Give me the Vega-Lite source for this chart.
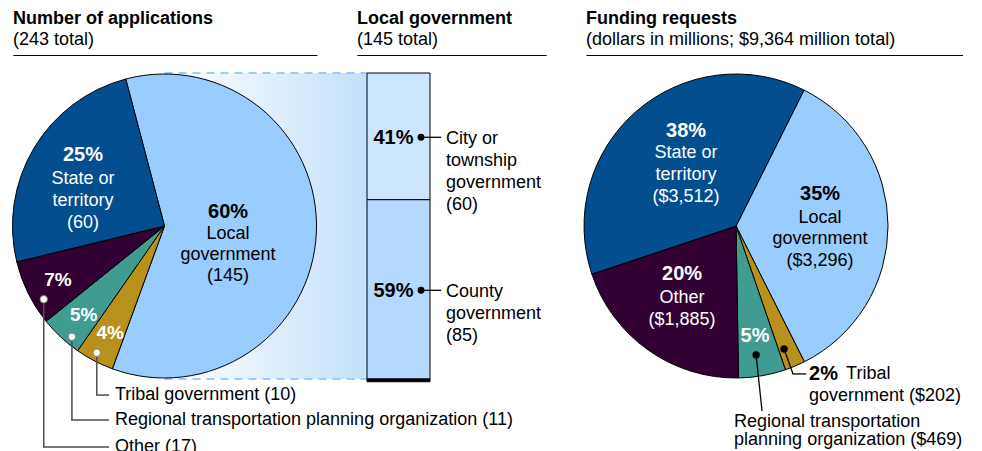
{
  "$schema": "https://vega.github.io/schema/vega-lite/v6.json",
  "padding": {"left": 10, "top": 10, "right": 0, "bottom": 0},
  "bounds": "flush",
  "spacing": 40,
  "resolve": {"scale": {"theta": "independent", "color": "independent", "x": "independent", "y": "independent"}},
  "config": {
    "font": "Liberation Sans",
    "view": {"stroke": null},
    "axis": {"labels": false, "ticks": false, "grid": false, "domain": true, "domainColor": "black", "domainWidth": 1.2, "offset": 18},
    "text": {"font": "Liberation Sans", "fontSize": 18, "color": "black"},
    "title": {"anchor": "start", "frame": "group", "font": "Liberation Sans", "fontSize": 18, "fontWeight": "bold", "color": "black", "subtitleFont": "Liberation Sans", "subtitleFontSize": 18, "subtitleColor": "black", "subtitlePadding": 3, "offset": 6}
  },
  "datasets": {
    "applications": [
      {"cat": "Local government", "n": 145, "order": 1, "pct": "60%", "lines": ["Local", "government", "(145)"], "legend": ""},
      {"cat": "Tribal government", "n": 10, "order": 2, "pct": "4%", "lines": [], "legend": "Tribal government (10)"},
      {"cat": "Regional transportation planning organization", "n": 11, "order": 3, "pct": "5%", "lines": [], "legend": "Regional transportation planning organization (11)"},
      {"cat": "Other", "n": 17, "order": 4, "pct": "7%", "lines": [], "legend": "Other (17)"},
      {"cat": "State or territory", "n": 60, "order": 5, "pct": "25%", "lines": ["State or", "territory", "(60)"], "legend": ""}
    ],
    "local": [
      {"group": "Local government", "sub": "County government", "n": 85, "order": 1, "pct": "59%", "lines": ["County", "government", "(85)"]},
      {"group": "Local government", "sub": "City or township government", "n": 60, "order": 2, "pct": "41%", "lines": ["City or", "township", "government", "(60)"]}
    ],
    "funding": [
      {"cat": "Local government", "usd": 3296, "order": 1, "pct": "35%", "lines": ["Local", "government", "($3,296)"], "first": "", "second": ""},
      {"cat": "Tribal government", "usd": 202, "order": 2, "pct": "2%", "lines": [], "first": "Tribal", "second": "government ($202)"},
      {"cat": "Regional transportation planning organization", "usd": 469, "order": 3, "pct": "5%", "lines": ["Regional transportation", "planning organization ($469)"], "first": "", "second": ""},
      {"cat": "Other", "usd": 1885, "order": 4, "pct": "20%", "lines": ["Other", "($1,885)"], "first": "", "second": ""},
      {"cat": "State or territory", "usd": 3512, "order": 5, "pct": "38%", "lines": ["State or", "territory", "($3,512)"], "first": "", "second": ""}
    ]
  },
  "hconcat": [
    {
      "width": 304,
      "height": 306,
      "title": {"text": "Number of applications", "subtitle": "(243 total)"},
      "data": {"name": "applications"},
      "layer": [
        {
          "transform": [{"filter": "datum.cat === 'Local government'"}],
          "mark": {"type": "rect", "fill": {"gradient": "linear", "x1": 0, "y1": 0, "x2": 1, "y2": 0, "stops": [{"offset": 0, "color": "#ffffff"}, {"offset": 1, "color": "#c4e0fa"}]}},
          "encoding": {
            "x": {"datum": 0, "type": "quantitative", "scale": {"domain": [-1, 1.0066], "nice": false, "zero": false}, "axis": {"orient": "top", "title": null}},
            "x2": {"datum": 1.337},
            "y": {"datum": -1, "type": "quantitative", "scale": {"domain": [-1, 1], "nice": false, "zero": false}, "axis": null},
            "y2": {"datum": 1}
          }
        },
        {
          "transform": [{"filter": "datum.cat === 'Local government'"}],
          "mark": {"type": "rule", "stroke": "#99ccff", "strokeWidth": 2, "strokeDash": [8, 6]},
          "encoding": {
            "x": {"datum": 0, "type": "quantitative", "scale": {"domain": [-1, 1.0066], "nice": false, "zero": false}, "axis": {"orient": "top", "title": null}},
            "x2": {"datum": 1.337},
            "y": {"datum": 1, "type": "quantitative", "scale": {"domain": [-1, 1], "nice": false, "zero": false}, "axis": null}
          }
        },
        {
          "transform": [{"filter": "datum.cat === 'Local government'"}],
          "mark": {"type": "rule", "stroke": "#99ccff", "strokeWidth": 2, "strokeDash": [8, 6]},
          "encoding": {
            "x": {"datum": 0, "type": "quantitative", "scale": {"domain": [-1, 1.0066], "nice": false, "zero": false}, "axis": {"orient": "top", "title": null}},
            "x2": {"datum": 1.337},
            "y": {"datum": -1, "type": "quantitative", "scale": {"domain": [-1, 1], "nice": false, "zero": false}, "axis": null}
          }
        },
        {
          "mark": {"type": "arc", "outerRadius": 152, "stroke": "black", "strokeWidth": 1},
          "encoding": {
            "x": {"datum": 0, "type": "quantitative", "scale": {"domain": [-1, 1.0066], "nice": false, "zero": false}, "axis": {"orient": "top", "title": null}},
            "theta": {"field": "n", "type": "quantitative", "stack": true, "scale": {"range": [-0.2578, 6.0254]}},
            "color": {"field": "cat", "type": "nominal", "legend": null, "scale": {"domain": ["Local government", "Tribal government", "Regional transportation planning organization", "Other", "State or territory"], "range": ["#99ccff", "#b8901c", "#409c91", "#330033", "#024e8f"]}},
            "order": {"field": "order"}
          }
        },
        {
          "mark": {"type": "text", "radius": 63.6, "dy": -17, "fontSize": 20, "fontWeight": "bold", "fill": "black", "baseline": "middle"},
          "encoding": {
            "x": {"datum": 0, "type": "quantitative", "scale": {"domain": [-1, 1.0066], "nice": false, "zero": false}, "axis": {"orient": "top", "title": null}},
            "theta": {"field": "n", "type": "quantitative", "stack": true},
            "detail": {"field": "cat"},
            "order": {"field": "order"},
            "text": {"field": "pct"},
            "opacity": {"condition": {"test": "datum.cat === 'Local government'", "value": 1}, "value": 0}
          }
        },
        {
          "mark": {"type": "text", "radius": 63.6, "dy": 5, "fontSize": 18, "lineHeight": 21, "fill": "black", "baseline": "middle"},
          "encoding": {
            "x": {"datum": 0, "type": "quantitative", "scale": {"domain": [-1, 1.0066], "nice": false, "zero": false}, "axis": {"orient": "top", "title": null}},
            "theta": {"field": "n", "type": "quantitative", "stack": true},
            "detail": {"field": "cat"},
            "order": {"field": "order"},
            "text": {"field": "lines"},
            "opacity": {"condition": {"test": "datum.cat === 'Local government'", "value": 1}, "value": 0}
          }
        },
        {
          "mark": {"type": "text", "radius": 94.9, "dy": -22, "fontSize": 20, "fontWeight": "bold", "fill": "white", "baseline": "middle"},
          "encoding": {
            "x": {"datum": 0, "type": "quantitative", "scale": {"domain": [-1, 1.0066], "nice": false, "zero": false}, "axis": {"orient": "top", "title": null}},
            "theta": {"field": "n", "type": "quantitative", "stack": true},
            "detail": {"field": "cat"},
            "order": {"field": "order"},
            "text": {"field": "pct"},
            "opacity": {"condition": {"test": "datum.cat === 'State or territory'", "value": 1}, "value": 0}
          }
        },
        {
          "mark": {"type": "text", "radius": 94.9, "dy": 1.2, "fontSize": 18, "lineHeight": 22.4, "fill": "white", "baseline": "middle"},
          "encoding": {
            "x": {"datum": 0, "type": "quantitative", "scale": {"domain": [-1, 1.0066], "nice": false, "zero": false}, "axis": {"orient": "top", "title": null}},
            "theta": {"field": "n", "type": "quantitative", "stack": true},
            "detail": {"field": "cat"},
            "order": {"field": "order"},
            "text": {"field": "lines"},
            "opacity": {"condition": {"test": "datum.cat === 'State or territory'", "value": 1}, "value": 0}
          }
        },
        {
          "mark": {"type": "text", "radius": 120, "dx": 1, "dy": 1, "fontSize": 19, "fontWeight": "bold", "fill": "white", "baseline": "middle"},
          "encoding": {
            "x": {"datum": 0, "type": "quantitative", "scale": {"domain": [-1, 1.0066], "nice": false, "zero": false}, "axis": {"orient": "top", "title": null}},
            "theta": {"field": "n", "type": "quantitative", "stack": true},
            "detail": {"field": "cat"},
            "order": {"field": "order"},
            "text": {"field": "pct"},
            "opacity": {"condition": {"test": "datum.n < 20", "value": 1}, "value": 0}
          }
        },
        {
          "transform": [{"filter": "datum.cat === 'Other'"}],
          "mark": {"type": "rule", "stroke": "#4d4d4d", "strokeWidth": 1.5},
          "encoding": {
            "x": {"datum": -0.797, "type": "quantitative", "scale": {"domain": [-1, 1.0066], "nice": false, "zero": false}, "axis": {"orient": "top", "title": null}},
            "y": {"datum": -0.479, "type": "quantitative", "scale": {"domain": [-1, 1], "nice": false, "zero": false}, "axis": null},
            "y2": {"datum": -1.444}
          }
        },
        {
          "transform": [{"filter": "datum.cat === 'Other'"}],
          "mark": {"type": "rule", "stroke": "#4d4d4d", "strokeWidth": 1.5},
          "encoding": {
            "x": {"datum": -0.802, "type": "quantitative", "scale": {"domain": [-1, 1.0066], "nice": false, "zero": false}, "axis": {"orient": "top", "title": null}},
            "x2": {"datum": -0.366},
            "y": {"datum": -1.444, "type": "quantitative", "scale": {"domain": [-1, 1], "nice": false, "zero": false}, "axis": null}
          }
        },
        {
          "transform": [{"filter": "datum.cat === 'Regional transportation planning organization'"}],
          "mark": {"type": "rule", "stroke": "#4d4d4d", "strokeWidth": 1.5},
          "encoding": {
            "x": {"datum": -0.611, "type": "quantitative", "scale": {"domain": [-1, 1.0066], "nice": false, "zero": false}, "axis": {"orient": "top", "title": null}},
            "y": {"datum": -0.724, "type": "quantitative", "scale": {"domain": [-1, 1], "nice": false, "zero": false}, "axis": null},
            "y2": {"datum": -1.268}
          }
        },
        {
          "transform": [{"filter": "datum.cat === 'Regional transportation planning organization'"}],
          "mark": {"type": "rule", "stroke": "#4d4d4d", "strokeWidth": 1.5},
          "encoding": {
            "x": {"datum": -0.616, "type": "quantitative", "scale": {"domain": [-1, 1.0066], "nice": false, "zero": false}, "axis": {"orient": "top", "title": null}},
            "x2": {"datum": -0.366},
            "y": {"datum": -1.268, "type": "quantitative", "scale": {"domain": [-1, 1], "nice": false, "zero": false}, "axis": null}
          }
        },
        {
          "transform": [{"filter": "datum.cat === 'Tribal government'"}],
          "mark": {"type": "rule", "stroke": "#4d4d4d", "strokeWidth": 1.5},
          "encoding": {
            "x": {"datum": -0.447, "type": "quantitative", "scale": {"domain": [-1, 1.0066], "nice": false, "zero": false}, "axis": {"orient": "top", "title": null}},
            "y": {"datum": -0.828, "type": "quantitative", "scale": {"domain": [-1, 1], "nice": false, "zero": false}, "axis": null},
            "y2": {"datum": -1.105}
          }
        },
        {
          "transform": [{"filter": "datum.cat === 'Tribal government'"}],
          "mark": {"type": "rule", "stroke": "#4d4d4d", "strokeWidth": 1.5},
          "encoding": {
            "x": {"datum": -0.452, "type": "quantitative", "scale": {"domain": [-1, 1.0066], "nice": false, "zero": false}, "axis": {"orient": "top", "title": null}},
            "x2": {"datum": -0.366},
            "y": {"datum": -1.105, "type": "quantitative", "scale": {"domain": [-1, 1], "nice": false, "zero": false}, "axis": null}
          }
        },
        {
          "transform": [{"filter": "datum.cat === 'Other'"}],
          "mark": {"type": "point", "filled": true, "fill": "white", "stroke": "#707070", "strokeWidth": 0.8, "size": 55, "opacity": 1},
          "encoding": {
            "x": {"datum": -0.797, "type": "quantitative", "scale": {"domain": [-1, 1.0066], "nice": false, "zero": false}, "axis": {"orient": "top", "title": null}},
            "y": {"datum": -0.479, "type": "quantitative", "scale": {"domain": [-1, 1], "nice": false, "zero": false}, "axis": null}
          }
        },
        {
          "transform": [{"filter": "datum.cat === 'Regional transportation planning organization'"}],
          "mark": {"type": "point", "filled": true, "fill": "white", "stroke": "#707070", "strokeWidth": 0.8, "size": 55, "opacity": 1},
          "encoding": {
            "x": {"datum": -0.611, "type": "quantitative", "scale": {"domain": [-1, 1.0066], "nice": false, "zero": false}, "axis": {"orient": "top", "title": null}},
            "y": {"datum": -0.724, "type": "quantitative", "scale": {"domain": [-1, 1], "nice": false, "zero": false}, "axis": null}
          }
        },
        {
          "transform": [{"filter": "datum.cat === 'Tribal government'"}],
          "mark": {"type": "point", "filled": true, "fill": "white", "stroke": "#707070", "strokeWidth": 0.8, "size": 55, "opacity": 1},
          "encoding": {
            "x": {"datum": -0.447, "type": "quantitative", "scale": {"domain": [-1, 1.0066], "nice": false, "zero": false}, "axis": {"orient": "top", "title": null}},
            "y": {"datum": -0.828, "type": "quantitative", "scale": {"domain": [-1, 1], "nice": false, "zero": false}, "axis": null}
          }
        },
        {
          "transform": [{"filter": "datum.cat === 'Tribal government'"}],
          "mark": {"type": "text", "align": "left", "baseline": "middle", "fontSize": 18, "fill": "black"},
          "encoding": {
            "x": {"datum": -0.327, "type": "quantitative", "scale": {"domain": [-1, 1.0066], "nice": false, "zero": false}, "axis": {"orient": "top", "title": null}},
            "y": {"datum": -1.105, "type": "quantitative", "scale": {"domain": [-1, 1], "nice": false, "zero": false}, "axis": null},
            "text": {"field": "legend"}
          }
        },
        {
          "transform": [{"filter": "datum.cat === 'Regional transportation planning organization'"}],
          "mark": {"type": "text", "align": "left", "baseline": "middle", "fontSize": 18, "fill": "black"},
          "encoding": {
            "x": {"datum": -0.327, "type": "quantitative", "scale": {"domain": [-1, 1.0066], "nice": false, "zero": false}, "axis": {"orient": "top", "title": null}},
            "y": {"datum": -1.268, "type": "quantitative", "scale": {"domain": [-1, 1], "nice": false, "zero": false}, "axis": null},
            "text": {"field": "legend"}
          }
        },
        {
          "transform": [{"filter": "datum.cat === 'Other'"}],
          "mark": {"type": "text", "align": "left", "baseline": "middle", "fontSize": 18, "fill": "black"},
          "encoding": {
            "x": {"datum": -0.327, "type": "quantitative", "scale": {"domain": [-1, 1.0066], "nice": false, "zero": false}, "axis": {"orient": "top", "title": null}},
            "y": {"datum": -1.444, "type": "quantitative", "scale": {"domain": [-1, 1], "nice": false, "zero": false}, "axis": null},
            "text": {"field": "legend"}
          }
        }
      ]
    },
    {
      "width": 189,
      "height": 306,
      "title": {"text": "Local government", "subtitle": "(145 total)"},
      "data": {"name": "local"},
      "encoding": {
        "x": {"field": "group", "type": "nominal", "scale": {"paddingInner": 0, "paddingOuter": 1, "align": 0.0794}, "axis": {"orient": "top", "title": null}}
      },
      "layer": [
        {
          "mark": {"type": "bar", "stroke": "black", "strokeWidth": 1},
          "encoding": {
            "y": {"field": "n", "type": "quantitative", "stack": true, "scale": {"domain": [0, 145], "nice": false}, "axis": null},
            "color": {"field": "sub", "type": "nominal", "legend": null, "scale": {"domain": ["County government", "City or township government"], "range": ["#b3d9ff", "#cce6ff"]}},
            "order": {"field": "order"}
          }
        },
        {
          "transform": [{"filter": "datum.order === 1"}],
          "mark": {"type": "bar", "fill": "black", "stroke": "black", "strokeWidth": 1},
          "encoding": {
            "y": {"datum": 0, "type": "quantitative", "scale": {"domain": [0, 145], "nice": false}, "axis": null},
            "y2": {"datum": -1.3}
          }
        },
        {
          "mark": {"type": "text", "fontSize": 20, "fontWeight": "bold", "fill": "black", "baseline": "middle", "dx": -5, "dy": 2},
          "encoding": {
            "y": {"field": "n", "type": "quantitative", "stack": true, "bandPosition": 0.5, "axis": null},
            "detail": {"field": "sub"},
            "order": {"field": "order"},
            "text": {"field": "pct"}
          }
        },
        {
          "mark": {"type": "point", "filled": true, "fill": "black", "size": 48, "opacity": 1, "xOffset": 22.5, "yOffset": 1},
          "encoding": {
            "y": {"field": "n", "type": "quantitative", "stack": true, "bandPosition": 0.5, "axis": null},
            "detail": {"field": "sub"},
            "order": {"field": "order"}
          }
        },
        {
          "mark": {"type": "tick", "orient": "horizontal", "color": "black", "size": 17, "thickness": 1.3, "opacity": 1, "xOffset": 34.2, "yOffset": 1},
          "encoding": {
            "y": {"field": "n", "type": "quantitative", "stack": true, "bandPosition": 0.5, "axis": null},
            "detail": {"field": "sub"},
            "order": {"field": "order"}
          }
        },
        {
          "mark": {"type": "text", "align": "left", "baseline": "alphabetic", "fontSize": 18, "lineHeight": 21.8, "fill": "black", "dx": 47.5, "dy": 8},
          "encoding": {
            "y": {"field": "n", "type": "quantitative", "stack": true, "bandPosition": 0.5, "axis": null},
            "detail": {"field": "sub"},
            "order": {"field": "order"},
            "text": {"field": "lines"}
          }
        }
      ]
    },
    {
      "width": 377,
      "height": 306,
      "title": {"text": "Funding requests", "subtitle": "(dollars in millions; $9,364 million total)"},
      "data": {"name": "funding"},
      "layer": [
        {
          "mark": {"type": "arc", "outerRadius": 152, "stroke": "black", "strokeWidth": 1},
          "encoding": {
            "x": {"datum": 0, "type": "quantitative", "scale": {"domain": [-0.987, 1.493], "nice": false, "zero": false}, "axis": {"orient": "top", "title": null}},
            "theta": {"field": "usd", "type": "quantitative", "stack": true, "scale": {"range": [0.4637, 6.7469]}},
            "color": {"field": "cat", "type": "nominal", "legend": null, "scale": {"domain": ["Local government", "Tribal government", "Regional transportation planning organization", "Other", "State or territory"], "range": ["#99ccff", "#b8901c", "#409c91", "#330033", "#024e8f"]}},
            "order": {"field": "order"}
          }
        },
        {
          "mark": {"type": "text", "radius": 76.3, "dy": -37, "fontSize": 20, "fontWeight": "bold", "fill": "white", "baseline": "middle"},
          "encoding": {
            "x": {"datum": 0, "type": "quantitative", "scale": {"domain": [-0.987, 1.493], "nice": false, "zero": false}, "axis": {"orient": "top", "title": null}},
            "theta": {"field": "usd", "type": "quantitative", "stack": true},
            "detail": {"field": "cat"},
            "order": {"field": "order"},
            "text": {"field": "pct"},
            "opacity": {"condition": {"test": "datum.cat === 'State or territory'", "value": 1}, "value": 0}
          }
        },
        {
          "mark": {"type": "text", "radius": 76.3, "dy": -15.5, "fontSize": 18, "lineHeight": 22, "fill": "white", "baseline": "middle"},
          "encoding": {
            "x": {"datum": 0, "type": "quantitative", "scale": {"domain": [-0.987, 1.493], "nice": false, "zero": false}, "axis": {"orient": "top", "title": null}},
            "theta": {"field": "usd", "type": "quantitative", "stack": true},
            "detail": {"field": "cat"},
            "order": {"field": "order"},
            "text": {"field": "lines"},
            "opacity": {"condition": {"test": "datum.cat === 'State or territory'", "value": 1}, "value": 0}
          }
        },
        {
          "mark": {"type": "text", "radius": 84, "dy": -32, "fontSize": 20, "fontWeight": "bold", "fill": "black", "baseline": "middle"},
          "encoding": {
            "x": {"datum": 0, "type": "quantitative", "scale": {"domain": [-0.987, 1.493], "nice": false, "zero": false}, "axis": {"orient": "top", "title": null}},
            "theta": {"field": "usd", "type": "quantitative", "stack": true},
            "detail": {"field": "cat"},
            "order": {"field": "order"},
            "text": {"field": "pct"},
            "opacity": {"condition": {"test": "datum.cat === 'Local government'", "value": 1}, "value": 0}
          }
        },
        {
          "mark": {"type": "text", "radius": 84, "dy": -8, "fontSize": 18, "lineHeight": 21.5, "fill": "black", "baseline": "middle"},
          "encoding": {
            "x": {"datum": 0, "type": "quantitative", "scale": {"domain": [-0.987, 1.493], "nice": false, "zero": false}, "axis": {"orient": "top", "title": null}},
            "theta": {"field": "usd", "type": "quantitative", "stack": true},
            "detail": {"field": "cat"},
            "order": {"field": "order"},
            "text": {"field": "lines"},
            "opacity": {"condition": {"test": "datum.cat === 'Local government'", "value": 1}, "value": 0}
          }
        },
        {
          "mark": {"type": "text", "radius": 93.4, "dy": -28, "fontSize": 20, "fontWeight": "bold", "fill": "white", "baseline": "middle"},
          "encoding": {
            "x": {"datum": 0, "type": "quantitative", "scale": {"domain": [-0.987, 1.493], "nice": false, "zero": false}, "axis": {"orient": "top", "title": null}},
            "theta": {"field": "usd", "type": "quantitative", "stack": true},
            "detail": {"field": "cat"},
            "order": {"field": "order"},
            "text": {"field": "pct"},
            "opacity": {"condition": {"test": "datum.cat === 'Other'", "value": 1}, "value": 0}
          }
        },
        {
          "mark": {"type": "text", "radius": 93.4, "dy": -4, "fontSize": 18, "lineHeight": 21.5, "fill": "white", "baseline": "middle"},
          "encoding": {
            "x": {"datum": 0, "type": "quantitative", "scale": {"domain": [-0.987, 1.493], "nice": false, "zero": false}, "axis": {"orient": "top", "title": null}},
            "theta": {"field": "usd", "type": "quantitative", "stack": true},
            "detail": {"field": "cat"},
            "order": {"field": "order"},
            "text": {"field": "lines"},
            "opacity": {"condition": {"test": "datum.cat === 'Other'", "value": 1}, "value": 0}
          }
        },
        {
          "mark": {"type": "text", "radius": 110, "dy": 2, "fontSize": 20, "fontWeight": "bold", "fill": "white", "baseline": "middle"},
          "encoding": {
            "x": {"datum": 0, "type": "quantitative", "scale": {"domain": [-0.987, 1.493], "nice": false, "zero": false}, "axis": {"orient": "top", "title": null}},
            "theta": {"field": "usd", "type": "quantitative", "stack": true},
            "detail": {"field": "cat"},
            "order": {"field": "order"},
            "text": {"field": "pct"},
            "opacity": {"condition": {"test": "datum.cat === 'Regional transportation planning organization'", "value": 1}, "value": 0}
          }
        },
        {
          "transform": [{"filter": "datum.cat === 'Regional transportation planning organization'"}],
          "mark": {"type": "rule", "stroke": "black", "strokeWidth": 1.3},
          "encoding": {
            "x": {"datum": 0.132, "type": "quantitative", "scale": {"domain": [-0.987, 1.493], "nice": false, "zero": false}, "axis": {"orient": "top", "title": null}},
            "y": {"datum": -0.843, "type": "quantitative", "scale": {"domain": [-1, 1], "nice": false, "zero": false}, "axis": null},
            "x2": {"datum": 0.171},
            "y2": {"datum": -1.209}
          }
        },
        {
          "transform": [{"filter": "datum.cat === 'Tribal government'"}],
          "mark": {"type": "rule", "stroke": "black", "strokeWidth": 1.3},
          "encoding": {
            "x": {"datum": 0.316, "type": "quantitative", "scale": {"domain": [-0.987, 1.493], "nice": false, "zero": false}, "axis": {"orient": "top", "title": null}},
            "y": {"datum": -0.804, "type": "quantitative", "scale": {"domain": [-1, 1], "nice": false, "zero": false}, "axis": null},
            "x2": {"datum": 0.375},
            "y2": {"datum": -0.967}
          }
        },
        {
          "transform": [{"filter": "datum.cat === 'Tribal government'"}],
          "mark": {"type": "rule", "stroke": "black", "strokeWidth": 1.3},
          "encoding": {
            "x": {"datum": 0.371, "type": "quantitative", "scale": {"domain": [-0.987, 1.493], "nice": false, "zero": false}, "axis": {"orient": "top", "title": null}},
            "y": {"datum": -0.967, "type": "quantitative", "scale": {"domain": [-1, 1], "nice": false, "zero": false}, "axis": null},
            "x2": {"datum": 0.461}
          }
        },
        {
          "transform": [{"filter": "datum.cat === 'Regional transportation planning organization'"}],
          "mark": {"type": "point", "filled": true, "fill": "black", "size": 55, "opacity": 1},
          "encoding": {
            "x": {"datum": 0.132, "type": "quantitative", "scale": {"domain": [-0.987, 1.493], "nice": false, "zero": false}, "axis": {"orient": "top", "title": null}},
            "y": {"datum": -0.843, "type": "quantitative", "scale": {"domain": [-1, 1], "nice": false, "zero": false}, "axis": null}
          }
        },
        {
          "transform": [{"filter": "datum.cat === 'Tribal government'"}],
          "mark": {"type": "point", "filled": true, "fill": "black", "size": 55, "opacity": 1},
          "encoding": {
            "x": {"datum": 0.316, "type": "quantitative", "scale": {"domain": [-0.987, 1.493], "nice": false, "zero": false}, "axis": {"orient": "top", "title": null}},
            "y": {"datum": -0.804, "type": "quantitative", "scale": {"domain": [-1, 1], "nice": false, "zero": false}, "axis": null}
          }
        },
        {
          "transform": [{"filter": "datum.cat === 'Regional transportation planning organization'"}],
          "mark": {"type": "text", "align": "left", "baseline": "middle", "fontSize": 18, "lineHeight": 18.5, "fill": "black"},
          "encoding": {
            "x": {"datum": -0.013, "type": "quantitative", "scale": {"domain": [-0.987, 1.493], "nice": false, "zero": false}, "axis": {"orient": "top", "title": null}},
            "y": {"datum": -1.278, "type": "quantitative", "scale": {"domain": [-1, 1], "nice": false, "zero": false}, "axis": null},
            "text": {"field": "lines"}
          }
        },
        {
          "transform": [{"filter": "datum.cat === 'Tribal government'"}],
          "mark": {"type": "text", "align": "left", "baseline": "middle", "fontSize": 20, "fontWeight": "bold", "fill": "black"},
          "encoding": {
            "x": {"datum": 0.48, "type": "quantitative", "scale": {"domain": [-0.987, 1.493], "nice": false, "zero": false}, "axis": {"orient": "top", "title": null}},
            "y": {"datum": -0.967, "type": "quantitative", "scale": {"domain": [-1, 1], "nice": false, "zero": false}, "axis": null},
            "text": {"field": "pct"}
          }
        },
        {
          "transform": [{"filter": "datum.cat === 'Tribal government'"}],
          "mark": {"type": "text", "align": "left", "baseline": "middle", "fontSize": 18, "fill": "black"},
          "encoding": {
            "x": {"datum": 0.724, "type": "quantitative", "scale": {"domain": [-0.987, 1.493], "nice": false, "zero": false}, "axis": {"orient": "top", "title": null}},
            "y": {"datum": -0.967, "type": "quantitative", "scale": {"domain": [-1, 1], "nice": false, "zero": false}, "axis": null},
            "text": {"field": "first"}
          }
        },
        {
          "transform": [{"filter": "datum.cat === 'Tribal government'"}],
          "mark": {"type": "text", "align": "left", "baseline": "middle", "fontSize": 18, "fill": "black"},
          "encoding": {
            "x": {"datum": 0.48, "type": "quantitative", "scale": {"domain": [-0.987, 1.493], "nice": false, "zero": false}, "axis": {"orient": "top", "title": null}},
            "y": {"datum": -1.111, "type": "quantitative", "scale": {"domain": [-1, 1], "nice": false, "zero": false}, "axis": null},
            "text": {"field": "second"}
          }
        }
      ]
    }
  ]
}
